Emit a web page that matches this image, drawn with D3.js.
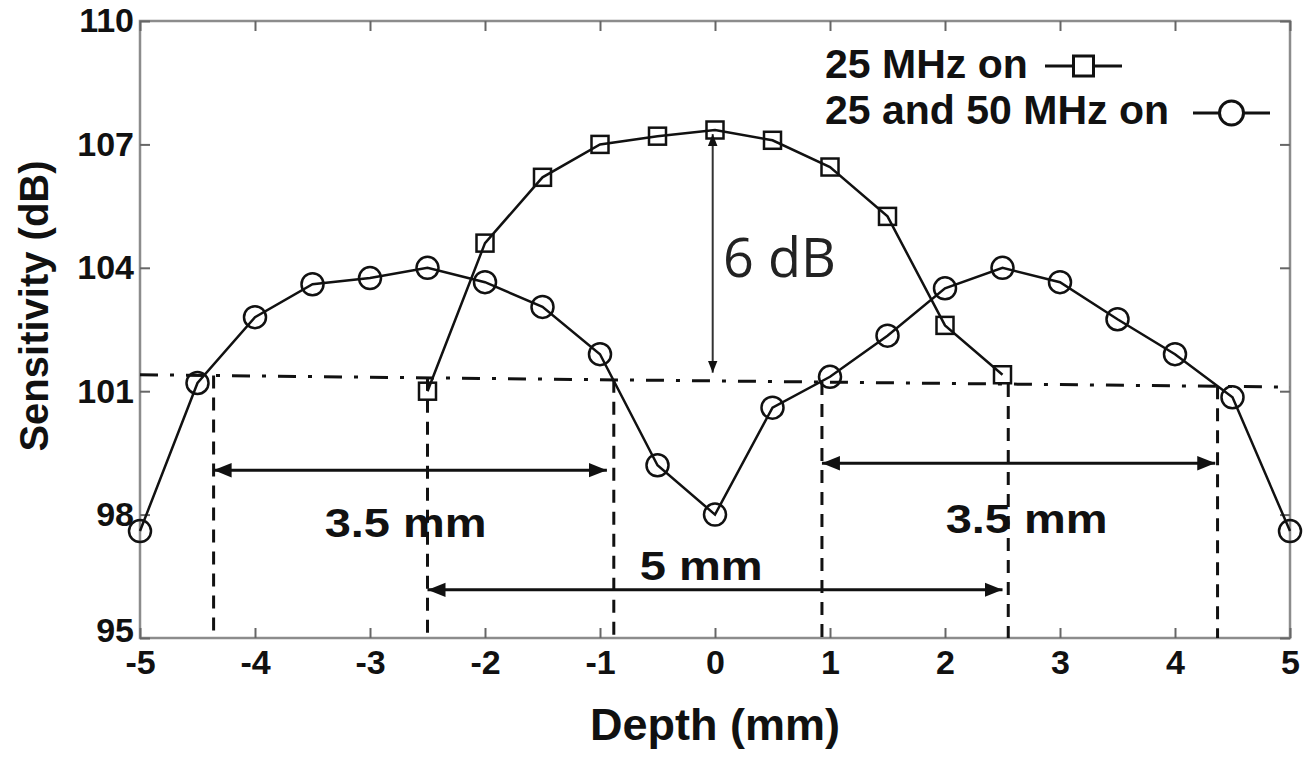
<!DOCTYPE html>
<html>
<head>
<meta charset="utf-8">
<script src="https://cdn.jsdelivr.net/npm/d3@7"></script>
<style>
  body { margin: 0; background: #fff; }
  svg { display: block; }
  text { font-family: "Liberation Sans", Arial, sans-serif; }
</style>
</head>
<body>
<svg id="chart" width="1316" height="757"></svg>
<script>
// depth positions (mm)
const depthSingle = [-2.5, -2, -1.5, -1, -0.5, 0, 0.5, 1, 1.5, 2, 2.5];
const depthDual = [-5, -4.5, -4, -3.5, -3, -2.5, -2, -1.5, -1, -0.5, 0, 0.5, 1, 1.5, 2, 2.5, 3, 3.5, 4, 4.5, 5];

// sensitivity (dB)
const sens25 = [101.0, 104.6, 106.2, 107.0, 107.2, 107.35, 107.1, 106.45, 105.25, 102.6, 101.4];
const sens25and50 = [97.6, 101.2, 102.8, 103.6, 103.75, 104.0, 103.65, 103.05, 101.9, 99.2, 98.0, 100.6, 101.35, 102.35, 103.5, 104.0, 103.65, 102.75, 101.9, 100.85, 97.6];

const xTicks = [-5, -4, -3, -2, -1, 0, 1, 2, 3, 4, 5];
const yTicks = [95, 98, 101, 104, 107, 110];

// annotation values
const cutoffLine = [[-5, 101.4], [5, 101.1]];
const guideDepths = [-4.36, -2.5, -0.88, 0.93, 2.55, 4.37];
const spans = [
  { from: -4.36, to: -0.94, level: 99.08, label: '3.5 mm', labelX: -2.69, labelY: 97.45, width: 162 },
  { from: -2.5, to: 2.5, level: 96.17, label: '5 mm', labelX: -0.12, labelY: 96.41, width: 123 },
  { from: 0.93, to: 4.35, level: 99.25, label: '3.5 mm', labelX: 2.71, labelY: 97.55, width: 162 }
];
const dbArrow = { at: -0.02, top: 107.25, bottom: 101.45 };

const svg = d3.select('#chart');
const x = d3.scaleLinear().domain([-5, 5]).range([140, 1290]);
const y = d3.scaleLinear().domain([95, 110]).range([638, 21]);

const axisColor = '#8c8c8c';

// frame
svg.append('rect')
  .attr('x', x(-5)).attr('y', y(110))
  .attr('width', x(5) - x(-5)).attr('height', y(95) - y(110))
  .attr('fill', 'none').attr('stroke', axisColor).attr('stroke-width', 2.5);

function styleAxis(g, labels) {
  g.select('.domain').remove();
  g.selectAll('.tick line').attr('stroke', '#666').attr('stroke-width', 2);
  if (labels) {
    g.selectAll('.tick text')
      .attr('fill', '#111')
      .style('font-size', '34px')
      .style('font-weight', 'bold');
  } else {
    g.selectAll('.tick text').remove();
  }
}

svg.append('g').attr('transform', `translate(0,${y(95)})`)
  .call(d3.axisBottom(x).tickValues(xTicks).tickSize(-10).tickPadding(12).tickFormat(d => String(d)))
  .call(g => styleAxis(g, true));
svg.append('g').attr('transform', `translate(0,${y(110)})`)
  .call(d3.axisTop(x).tickValues(xTicks).tickSize(-10))
  .call(g => styleAxis(g, false));
svg.append('g').attr('transform', `translate(${x(-5)},0)`)
  .call(d3.axisLeft(y).tickValues(yTicks).tickSize(-10).tickPadding(6).tickFormat(d => String(d)))
  .call(g => styleAxis(g, true))
  .call(g => g.selectAll('.tick text').filter(d => d === 95).attr('dy', '0.1em'));
svg.append('g').attr('transform', `translate(${x(5)},0)`)
  .call(d3.axisRight(y).tickValues(yTicks).tickSize(-10))
  .call(g => styleAxis(g, false));

// arrow markers
const defs = svg.append('defs');
defs.append('marker').attr('id', 'arrow')
  .attr('viewBox', '0 0 10 10').attr('refX', 10).attr('refY', 5)
  .attr('markerWidth', 6).attr('markerHeight', 6).attr('markerUnits', 'strokeWidth')
  .attr('orient', 'auto-start-reverse')
  .append('path').attr('d', 'M0,1 L10,5 L0,9 Z').attr('fill', '#111');

// guides
svg.append('path')
  .datum(cutoffLine)
  .attr('d', d3.line().x(d => x(d[0])).y(d => y(d[1])))
  .attr('stroke', '#111').attr('stroke-width', 3)
  .attr('stroke-dasharray', '18,12,4,12').attr('fill', 'none');

const cutAt = xv => cutoffLine[0][1] + (cutoffLine[1][1] - cutoffLine[0][1]) * (xv + 5) / 10;

svg.selectAll('.guide')
  .data(guideDepths)
  .enter().append('line')
  .attr('class', 'guide')
  .attr('x1', d => x(d)).attr('x2', d => x(d))
  .attr('y1', d => y(cutAt(d))).attr('y2', y(95))
  .attr('stroke', '#111').attr('stroke-width', 3)
  .attr('stroke-dasharray', '13,9');

svg.selectAll('.span')
  .data(spans)
  .enter().append('line')
  .attr('class', 'span')
  .attr('x1', d => x(d.from)).attr('x2', d => x(d.to))
  .attr('y1', d => y(d.level)).attr('y2', d => y(d.level))
  .attr('stroke', '#111').attr('stroke-width', 3)
  .attr('marker-start', 'url(#arrow)').attr('marker-end', 'url(#arrow)');

svg.selectAll('.spanLabel')
  .data(spans)
  .enter().append('text')
  .attr('class', 'spanLabel')
  .attr('x', d => x(d.labelX)).attr('y', d => y(d.labelY))
  .attr('text-anchor', 'middle')
  .attr('textLength', d => d.width).attr('lengthAdjust', 'spacingAndGlyphs')
  .style('font-size', '40px').style('font-weight', 'bold')
  .attr('fill', '#111')
  .text(d => d.label);

svg.append('line')
  .attr('x1', x(dbArrow.at)).attr('x2', x(dbArrow.at))
  .attr('y1', y(dbArrow.top)).attr('y2', y(dbArrow.bottom))
  .attr('stroke', '#333').attr('stroke-width', 2)
  .attr('marker-start', 'url(#arrow)').attr('marker-end', 'url(#arrow)');

svg.append('text')
  .attr('x', 723).attr('y', 277)
  .style('font-family', '"Open Sans", "DejaVu Sans", sans-serif')
  .style('font-size', '54px')
  .attr('fill', '#222')
  .text('6 dB');

// series
const line = d3.line().x(d => x(d[0])).y(d => y(d[1]));
const singleData = d3.zip(depthSingle, sens25);
const dualData = d3.zip(depthDual, sens25and50);

svg.append('path').datum(singleData).attr('d', line)
  .attr('fill', 'none').attr('stroke', '#111').attr('stroke-width', 2.5);
svg.append('path').datum(dualData).attr('d', line)
  .attr('fill', 'none').attr('stroke', '#111').attr('stroke-width', 2.5);

const sq = 17;
svg.selectAll('.sq')
  .data(singleData)
  .enter().append('rect')
  .attr('class', 'sq')
  .attr('x', d => x(d[0]) - sq / 2).attr('y', d => y(d[1]) - sq / 2)
  .attr('width', sq).attr('height', sq)
  .attr('fill', 'none').attr('stroke', '#111').attr('stroke-width', 2.5);

svg.selectAll('.ci')
  .data(dualData)
  .enter().append('circle')
  .attr('class', 'ci')
  .attr('cx', d => x(d[0])).attr('cy', d => y(d[1]))
  .attr('r', 11)
  .attr('fill', 'none').attr('stroke', '#111').attr('stroke-width', 2.5);

// legend
const legend = svg.append('g');
const legendItems = [
  { label: '25 MHz on', ty: 78, lx1: 1045, lx2: 1122, ly: 66, shape: 'square' },
  { label: '25 and 50 MHz on', ty: 124, lx1: 1193, lx2: 1270, ly: 113, shape: 'circle' }
];
legendItems.forEach(item => {
  legend.append('text')
    .attr('x', 825).attr('y', item.ty)
    .style('font-size', '41px').style('font-weight', 'bold')
    .attr('fill', '#111')
    .text(item.label);
  legend.append('line')
    .attr('x1', item.lx1).attr('x2', item.lx2)
    .attr('y1', item.ly).attr('y2', item.ly)
    .attr('stroke', '#111').attr('stroke-width', 3);
  const cx = (item.lx1 + item.lx2) / 2;
  if (item.shape === 'square') {
    legend.append('rect')
      .attr('x', cx - 10).attr('y', item.ly - 10).attr('width', 20).attr('height', 20)
      .attr('fill', '#fff').attr('stroke', '#111').attr('stroke-width', 3);
  } else {
    legend.append('circle')
      .attr('cx', cx).attr('cy', item.ly).attr('r', 12)
      .attr('fill', '#fff').attr('stroke', '#111').attr('stroke-width', 3);
  }
});

// axis titles
svg.append('text')
  .attr('x', x(0)).attr('y', 740)
  .attr('text-anchor', 'middle')
  .style('font-size', '45px').style('font-weight', 'bold')
  .attr('fill', '#111')
  .text('Depth (mm)');

svg.append('text')
  .attr('transform', 'translate(48,306) rotate(-90)')
  .attr('text-anchor', 'middle')
  .style('font-size', '40px').style('font-weight', 'bold')
  .attr('fill', '#111')
  .text('Sensitivity (dB)');
</script>
</body>
</html>
